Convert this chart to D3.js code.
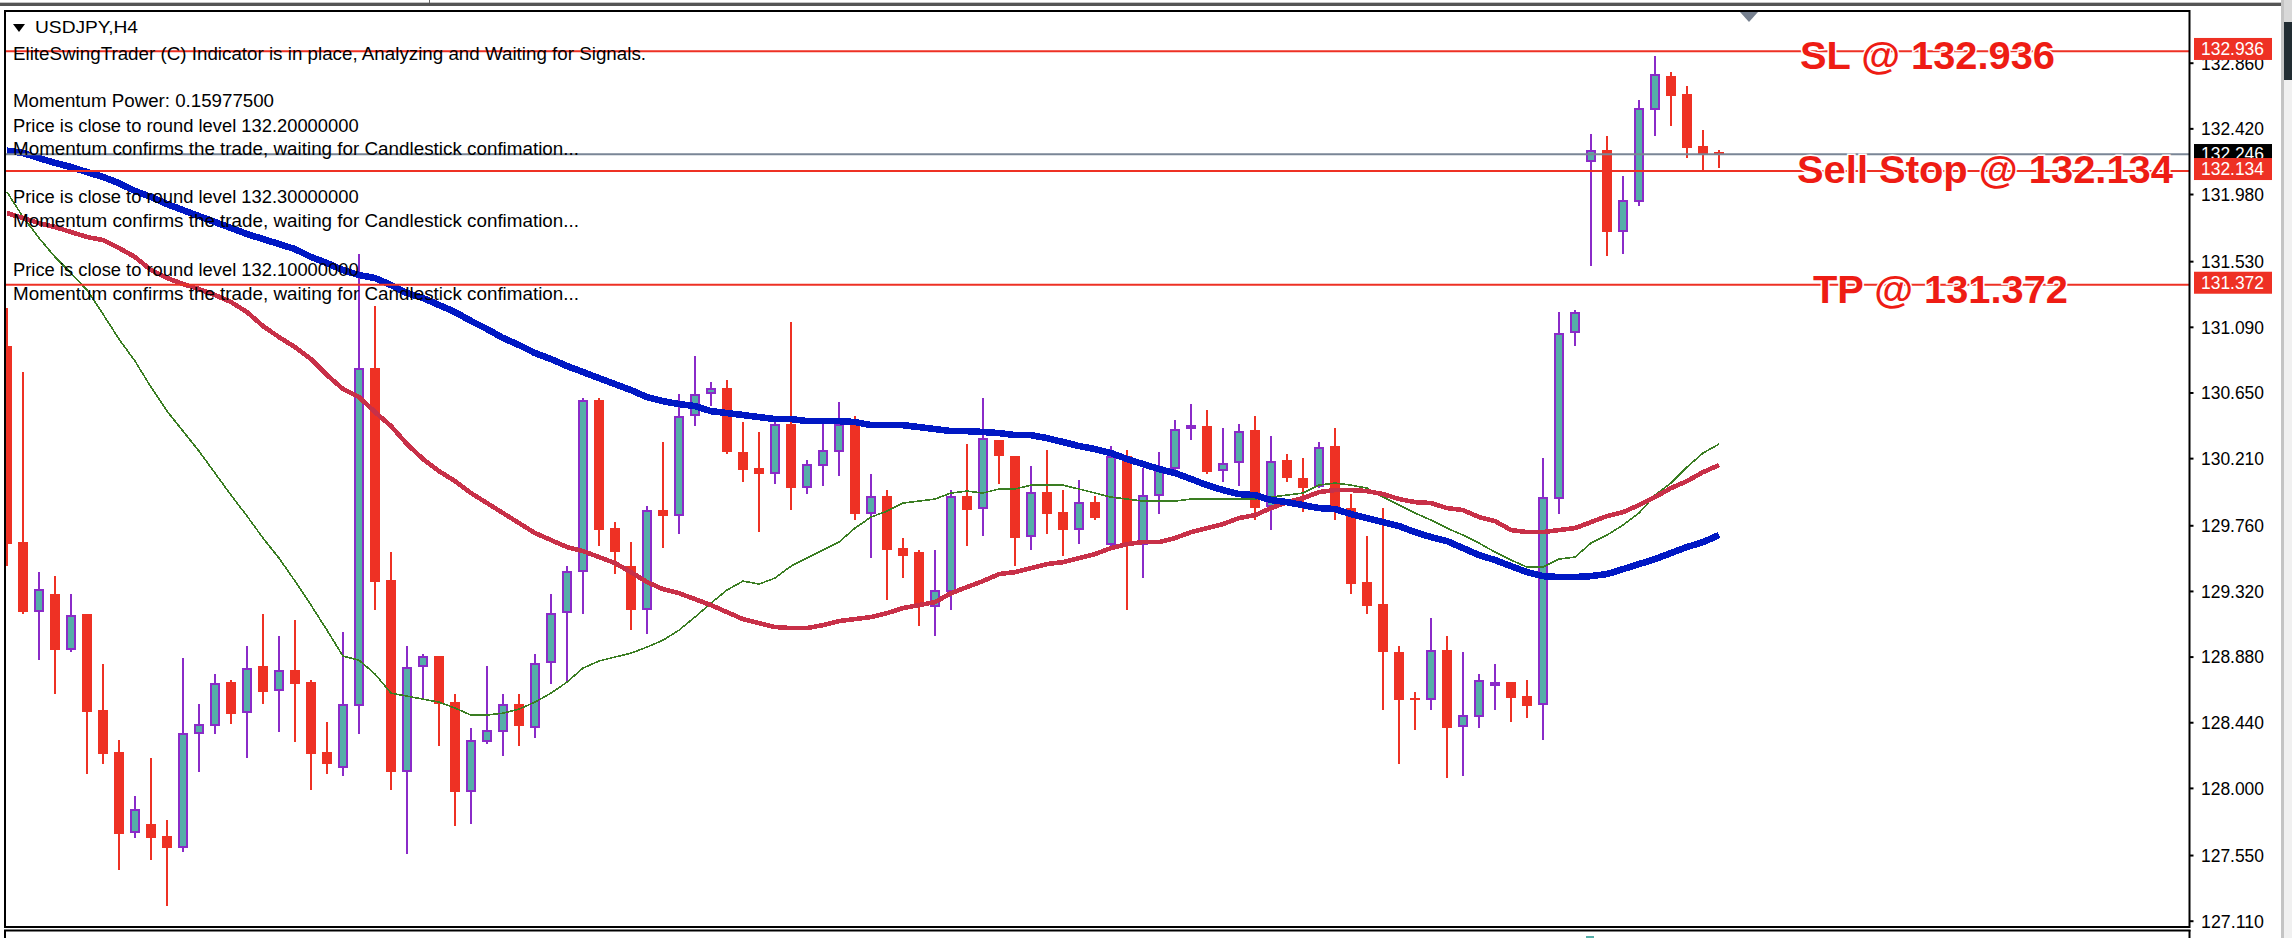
<!DOCTYPE html>
<html>
<head>
<meta charset="utf-8">
<script src="https://cdn.jsdelivr.net/npm/d3@7"></script>
<style>
  html, body { margin: 0; padding: 0; background: #fff; overflow: hidden; }
  svg { display: block; }
  text { font-family: "Liberation Sans", Arial, sans-serif; }
</style>
</head>
<body>
<div id="chart"></div>
<script>
// USDJPY H4, candles + 3 moving averages

const opens = [130.961,129.647,129.178,129.299,128.927,129.165,128.521,128.240,127.697,127.757,127.677,127.599,128.360,128.417,128.709,128.501,128.816,128.649,128.789,128.709,128.240,128.136,128.551,130.814,129.393,128.109,128.809,128.883,128.575,127.975,
  128.307,128.376,128.562,128.401,128.834,129.169,129.448,130.599,129.741,129.486,129.194,129.862,129.824,130.494,130.641,130.680,130.251,130.143,130.105,130.438,130.011,130.159,130.253,130.438,129.837,129.956,129.607,129.580,129.212,129.314,
  129.956,129.867,130.331,130.224,129.679,129.982,129.848,129.730,129.915,129.625,130.224,129.625,129.958,130.135,130.403,130.425,130.121,130.175,130.398,129.884,130.197,130.076,130.014,130.291,129.875,129.379,129.232,128.910,128.602,128.590,
  128.923,128.405,128.472,128.682,128.709,128.615,128.553,129.933,131.046,132.196,132.275,131.727,131.928,132.545,132.771,132.650,132.301,132.261];
const highs = [131.216,130.787,129.446,129.419,129.299,129.165,128.830,128.320,127.945,128.200,127.784,128.870,128.562,128.763,128.722,128.950,129.165,129.017,129.125,128.722,128.441,129.044,131.578,131.229,129.580,128.950,128.897,128.883,128.629,128.401,
  128.816,128.629,128.629,128.897,129.299,129.486,130.612,130.612,129.781,129.647,129.889,130.318,130.639,130.894,130.720,130.733,130.452,130.385,130.465,131.122,130.197,130.465,130.586,130.492,130.103,129.996,129.674,129.594,129.594,129.996,
  130.304,130.612,130.331,130.224,130.157,130.264,129.996,130.063,129.956,130.291,130.264,130.143,130.251,130.465,130.572,130.532,130.411,130.438,130.492,130.358,130.237,130.210,130.318,130.411,129.969,129.688,129.875,128.950,128.642,129.138,
  129.017,128.910,128.763,128.830,128.709,128.722,130.210,131.189,131.202,132.382,132.368,132.100,132.610,132.905,132.797,132.704,132.409,132.275];
const lows = [129.486,129.165,128.856,128.629,128.910,128.092,128.159,127.449,127.663,127.516,127.208,127.570,128.106,128.360,128.427,128.200,128.562,128.374,128.307,127.985,128.092,128.079,128.360,129.192,127.985,127.556,128.597,128.280,127.744,127.757,
  128.293,128.213,128.280,128.334,128.696,128.702,129.165,129.621,129.433,129.057,129.031,129.607,129.701,130.425,130.559,130.237,130.049,129.714,130.036,129.862,129.969,130.023,130.090,129.795,129.540,129.259,129.406,129.084,129.017,129.192,
  129.621,129.688,130.036,129.486,129.594,129.701,129.554,129.634,129.795,129.621,129.192,129.406,129.835,130.130,130.331,130.103,130.049,130.023,129.795,129.728,130.049,129.848,130.009,129.795,129.299,129.165,128.521,128.159,128.387,128.521,
  128.066,128.079,128.401,128.521,128.441,128.468,128.320,129.835,130.961,131.497,131.564,131.578,131.899,132.368,132.436,132.221,132.136,132.154];
const closes = [129.634,129.178,129.336,128.923,129.161,128.508,128.226,127.690,127.861,127.663,127.596,128.370,128.427,128.706,128.494,128.803,128.642,128.789,128.696,128.226,128.159,128.562,130.814,129.383,128.106,128.812,128.883,128.564,127.972,128.320,
  128.385,128.560,128.414,128.838,129.173,129.455,130.599,129.728,129.580,129.192,129.860,129.822,130.490,130.637,130.677,130.251,130.130,130.103,130.436,130.009,130.168,130.262,130.436,129.835,129.954,129.594,129.554,129.232,129.324,129.954,
  129.862,130.342,130.224,129.674,129.980,129.835,129.728,129.913,129.808,130.222,129.634,129.964,130.130,130.407,130.434,130.116,130.179,130.393,129.875,130.192,130.076,130.009,130.286,129.862,129.366,129.218,128.910,128.588,128.588,128.921,
  128.401,128.490,128.720,128.709,128.602,128.548,129.951,131.050,131.187,132.273,131.725,131.937,132.554,132.782,132.637,132.288,132.248,132.246];

// moving averages, one value per candle
const maBlue = [132.270,132.255,132.221,132.188,132.161,132.127,132.094,132.053,132.000,131.960,131.913,131.872,131.832,131.792,131.752,131.712,131.678,131.645,131.611,131.558,131.517,131.470,131.437,131.417,131.370,131.316,131.283,131.236,131.189,131.129,
  131.075,131.015,130.968,130.914,130.874,130.827,130.787,130.746,130.706,130.666,130.619,130.592,130.572,130.559,130.525,130.512,130.499,130.485,130.472,130.472,130.458,130.458,130.458,130.452,130.431,130.431,130.431,130.418,130.405,130.391,
  130.391,130.385,130.378,130.364,130.364,130.344,130.318,130.291,130.271,130.244,130.204,130.170,130.137,130.110,130.070,130.029,129.996,129.969,129.962,129.929,129.915,129.895,129.875,129.869,129.835,129.808,129.781,129.755,129.714,129.681,
  129.654,129.607,129.560,129.527,129.486,129.446,129.419,129.413,129.413,129.419,129.433,129.466,129.500,129.533,129.574,129.614,129.647,129.694];
const maCrimson = [131.852,131.819,131.785,131.759,131.725,131.692,131.671,131.618,131.558,131.470,131.417,131.377,131.343,131.303,131.256,131.189,131.095,131.021,130.954,130.874,130.767,130.673,130.619,130.519,130.425,130.304,130.204,130.123,130.056,129.976,
  129.909,129.842,129.775,129.708,129.661,129.614,129.587,129.547,129.507,129.446,129.379,129.332,129.305,129.265,129.225,129.178,129.131,129.104,129.078,129.071,129.071,129.091,129.118,129.131,129.145,129.171,129.205,129.225,129.245,129.305,
  129.346,129.386,129.433,129.446,129.473,129.500,129.513,129.540,129.567,129.607,129.634,129.647,129.647,129.674,129.714,129.741,129.768,129.808,129.828,129.875,129.915,129.942,129.982,129.996,129.996,129.989,129.969,129.936,129.915,129.909,
  129.875,129.862,129.815,129.788,129.728,129.714,129.714,129.728,129.741,129.781,129.822,129.848,129.895,129.949,130.009,130.056,130.116,130.163];
const maGreen = [131.993,131.826,131.685,131.558,131.450,131.336,131.175,131.008,130.860,130.686,130.525,130.391,130.257,130.110,129.962,129.822,129.674,129.540,129.386,129.225,129.057,128.883,128.856,128.763,128.635,128.615,128.595,128.575,128.535,128.488,
  128.488,128.501,128.528,128.575,128.635,128.709,128.803,128.850,128.877,128.903,128.944,128.990,129.057,129.145,129.238,129.326,129.386,129.366,129.406,129.486,129.540,129.594,129.647,129.741,129.815,129.855,129.909,129.922,129.936,129.976,
  129.989,129.976,130.003,130.003,130.029,130.029,130.029,130.003,129.976,129.949,129.936,129.922,129.922,129.922,129.936,129.936,129.936,129.936,129.936,129.949,129.962,129.976,130.029,130.043,130.029,130.009,129.949,129.895,129.842,129.795,
  129.741,129.694,129.641,129.580,129.527,129.480,129.480,129.533,129.547,129.641,129.694,129.761,129.842,129.962,130.043,130.150,130.244,130.304];

const priceTicks = [132.86,132.42,131.98,131.53,131.09,130.65,130.21,129.76,129.32,128.88,128.44,128.00,127.55,127.11];

const slLevel = 132.936;
const entryLevel = 132.134;
const tpLevel = 131.372;
const lastPrice = 132.246;

const commentLines = [
  "EliteSwingTrader (C) Indicator is in place, Analyzing and Waiting for Signals.",
  "Momentum Power: 0.15977500",
  "Price is close to round level 132.20000000",
  "Momentum confirms the trade, waiting for Candlestick confimation...",
  "Price is close to round level 132.30000000",
  "Momentum confirms the trade, waiting for Candlestick confimation...",
  "Price is close to round level 132.10000000",
  "Momentum confirms the trade, waiting for Candlestick confimation..."
];

const RED = "#ee3124", TEAL = "#55aea8", PURPLE = "#8a2bc8";

const width = 2292, height = 938;
const plot = { left: 5, top: 11, right: 2189.5, bottom: 927 };

const svg = d3.select("#chart").append("svg")
  .attr("width", width)
  .attr("height", height);

const x = d3.scaleLinear().domain([0, opens.length - 1]).range([7, 1719]);
const y = d3.scaleLinear().domain([127.11, 132.86]).range([920.7, 62.7]);

// window chrome, the grey bits around the chart
svg.append("rect").attr("x", 0).attr("y", 2).attr("width", 2281).attr("height", 1).attr("fill", "#c4c4c4");
svg.append("rect").attr("x", 0).attr("y", 3).attr("width", 2281).attr("height", 3).attr("fill", "#555");
svg.append("rect").attr("x", 429).attr("y", 0).attr("width", 1).attr("height", 3).attr("fill", "#666");
svg.append("rect").attr("x", 2281).attr("y", 0).attr("width", 3).attr("height", height).attr("fill", "#c4c4c4");
svg.append("rect").attr("x", 2284).attr("y", 0).attr("width", 8).attr("height", height).attr("fill", "#f0f0f0");
svg.append("rect").attr("x", 2284).attr("y", 0).attr("width", 8).attr("height", 22).attr("fill", "#d8d8d8");
svg.append("rect").attr("x", 2284).attr("y", 22).attr("width", 8).attr("height", 58).attr("fill", "#222d33");

svg.append("defs").append("clipPath").attr("id", "plotClip")
  .append("rect")
  .attr("x", plot.left + 1)
  .attr("y", plot.top)
  .attr("width", plot.right - plot.left - 1)
  .attr("height", plot.bottom - plot.top);

const g = svg.append("g").attr("clip-path", "url(#plotClip)");

const candles = opens.map((o, i) => ({ i, o, h: highs[i], l: lows[i], c: closes[i], up: closes[i] > o }));

// wicks first, bodies go over them
g.selectAll(".wick")
  .data(candles)
  .join("rect")
  .attr("class", "wick")
  .attr("x", d => x(d.i) - 1)
  .attr("y", d => y(d.h))
  .attr("width", 2)
  .attr("height", d => y(d.l) - y(d.h))
  .attr("fill", d => d.up ? PURPLE : RED)
  .attr("shape-rendering", "crispEdges");

g.selectAll(".body")
  .data(candles)
  .join("rect")
  .attr("class", "body")
  .attr("x", d => x(d.i) - (d.up ? 4 : 5))
  .attr("y", d => y(Math.max(d.o, d.c)) + (d.up ? 1 : 0))
  .attr("width", d => d.up ? 8 : 10)
  .attr("height", d => Math.max(1, y(Math.min(d.o, d.c)) - y(Math.max(d.o, d.c)) - (d.up ? 2 : 0)))
  .attr("fill", d => d.up ? TEAL : RED)
  .attr("stroke", d => d.up ? PURPLE : "none")
  .attr("stroke-width", 2)
  .attr("shape-rendering", "crispEdges");

// moving averages
const maLine = vals => d3.line().x((d, i) => x(i)).y(d => y(d))(vals);

[[maGreen, "#3a7d22", 1.6], [maCrimson, "#c83048", 4.6], [maBlue, "#0018c4", 6.6]].forEach(([vals, col, w]) => {
  g.append("path")
    .attr("d", maLine(vals))
    .attr("fill", "none")
    .attr("stroke", col)
    .attr("stroke-width", w)
    .attr("shape-rendering", "crispEdges");
});

// horizontal levels
g.append("line")
  .attr("x1", plot.left).attr("x2", plot.right)
  .attr("y1", y(lastPrice)).attr("y2", y(lastPrice))
  .attr("stroke", "#7a8696").attr("stroke-width", 2);

[slLevel, entryLevel, tpLevel].forEach(v => {
  g.append("line")
    .attr("x1", plot.left).attr("x2", plot.right)
    .attr("y1", y(v)).attr("y2", y(v))
    .attr("stroke", RED).attr("stroke-width", 2);
});

// frame
svg.append("rect")
  .attr("x", plot.left).attr("y", plot.top)
  .attr("width", plot.right - plot.left).attr("height", plot.bottom - plot.top)
  .attr("fill", "none").attr("stroke", "#000").attr("stroke-width", 2);

// the sub window under the chart, only a sliver of it shows
svg.append("line").attr("x1", 4).attr("x2", plot.right + 1).attr("y1", 930.5).attr("y2", 930.5).attr("stroke", "#000").attr("stroke-width", 2);
svg.append("line").attr("x1", plot.left).attr("x2", plot.left).attr("y1", 930).attr("y2", height).attr("stroke", "#000").attr("stroke-width", 2);
svg.append("line").attr("x1", plot.right).attr("x2", plot.right).attr("y1", 930).attr("y2", height).attr("stroke", "#000").attr("stroke-width", 2);
svg.append("rect").attr("x", 1586).attr("y", 936).attr("width", 8).attr("height", 2).attr("fill", TEAL);

// the little arrow on top of the last bars
svg.append("path")
  .attr("d", d3.line()([[1740, 12], [1758, 12], [1749, 22]]) + "Z")
  .attr("fill", "#76808f");

// title
svg.append("path")
  .attr("d", d3.line()([[13, 24], [25, 24], [19, 32]]) + "Z")
  .attr("fill", "#000");
svg.append("text")
  .attr("x", 35).attr("y", 33.3)
  .attr("font-size", 17)
  .attr("textLength", 103)
  .attr("lengthAdjust", "spacingAndGlyphs")
  .attr("fill", "#000")
  .text("USDJPY,H4");

// comment block of the indicator
const commentBase = [60, 107.3, 131.7, 155, 203.3, 227.3, 275.7, 300];
const commentLen = [633, 261, 345.6, 566, 345.6, 566, 345.6, 566];

svg.selectAll(".comment")
  .data(commentLines)
  .join("text")
  .attr("class", "comment")
  .attr("x", 13)
  .attr("y", (d, i) => commentBase[i])
  .attr("font-size", 17.5)
  .attr("textLength", (d, i) => commentLen[i])
  .attr("lengthAdjust", "spacingAndGlyphs")
  .attr("fill", "#000")
  .text(d => d);

// price axis
const axis = d3.axisRight(y)
  .tickValues(priceTicks)
  .tickSize(4)
  .tickPadding(8)
  .tickFormat(d3.format(".3f"));

const axisG = svg.append("g")
  .attr("transform", `translate(${plot.right},0)`)
  .call(axis);

axisG.select(".domain").remove();
axisG.selectAll(".tick line").attr("stroke", "#000").attr("stroke-width", 2);
axisG.selectAll(".tick text")
  .attr("font-family", '"Liberation Sans", Arial, sans-serif')
  .attr("font-size", 17.5)
  .attr("fill", "#000")
  .attr("x", 11.5)
  .attr("dy", 6.3)
  .attr("textLength", 63)
  .attr("lengthAdjust", "spacingAndGlyphs");

// price tags on the axis, black one goes under the red ones
const tag = (v, fill, topOff, baseOff) => {
  svg.append("rect")
    .attr("x", 2194).attr("y", y(v) - topOff)
    .attr("width", 78).attr("height", 22)
    .attr("fill", fill);
  svg.append("text")
    .attr("x", 2201).attr("y", y(v) + baseOff)
    .attr("font-size", 17.5)
    .attr("textLength", 63)
    .attr("lengthAdjust", "spacingAndGlyphs")
    .attr("fill", "#fff")
    .text(d3.format(".3f")(v));
};

tag(lastPrice, "#000", 10.3, 5.7);
tag(slLevel, RED, 13.4, 3.6);
tag(entryLevel, RED, 13, 4);
tag(tpLevel, RED, 13, 4);

// big labels over the level lines
const notes = [
  { label: "SL @ " + slLevel.toFixed(3), x: 1800, base: 69, len: 255 },
  { label: "Sell Stop @ " + entryLevel.toFixed(3), x: 1797, base: 183, len: 376 },
  { label: "TP @ " + tpLevel.toFixed(3), x: 1813, base: 303, len: 255 }
];

svg.selectAll(".note")
  .data(notes)
  .join("text")
  .attr("class", "note")
  .attr("x", d => d.x)
  .attr("y", d => d.base)
  .attr("font-size", 39)
  .attr("font-weight", 700)
  .attr("textLength", d => d.len)
  .attr("lengthAdjust", "spacingAndGlyphs")
  .attr("fill", "#ee1c14")
  .attr("stroke", "#fff")
  .attr("stroke-width", 3)
  .attr("paint-order", "stroke")
  .text(d => d.label);
</script>
</body>
</html>
